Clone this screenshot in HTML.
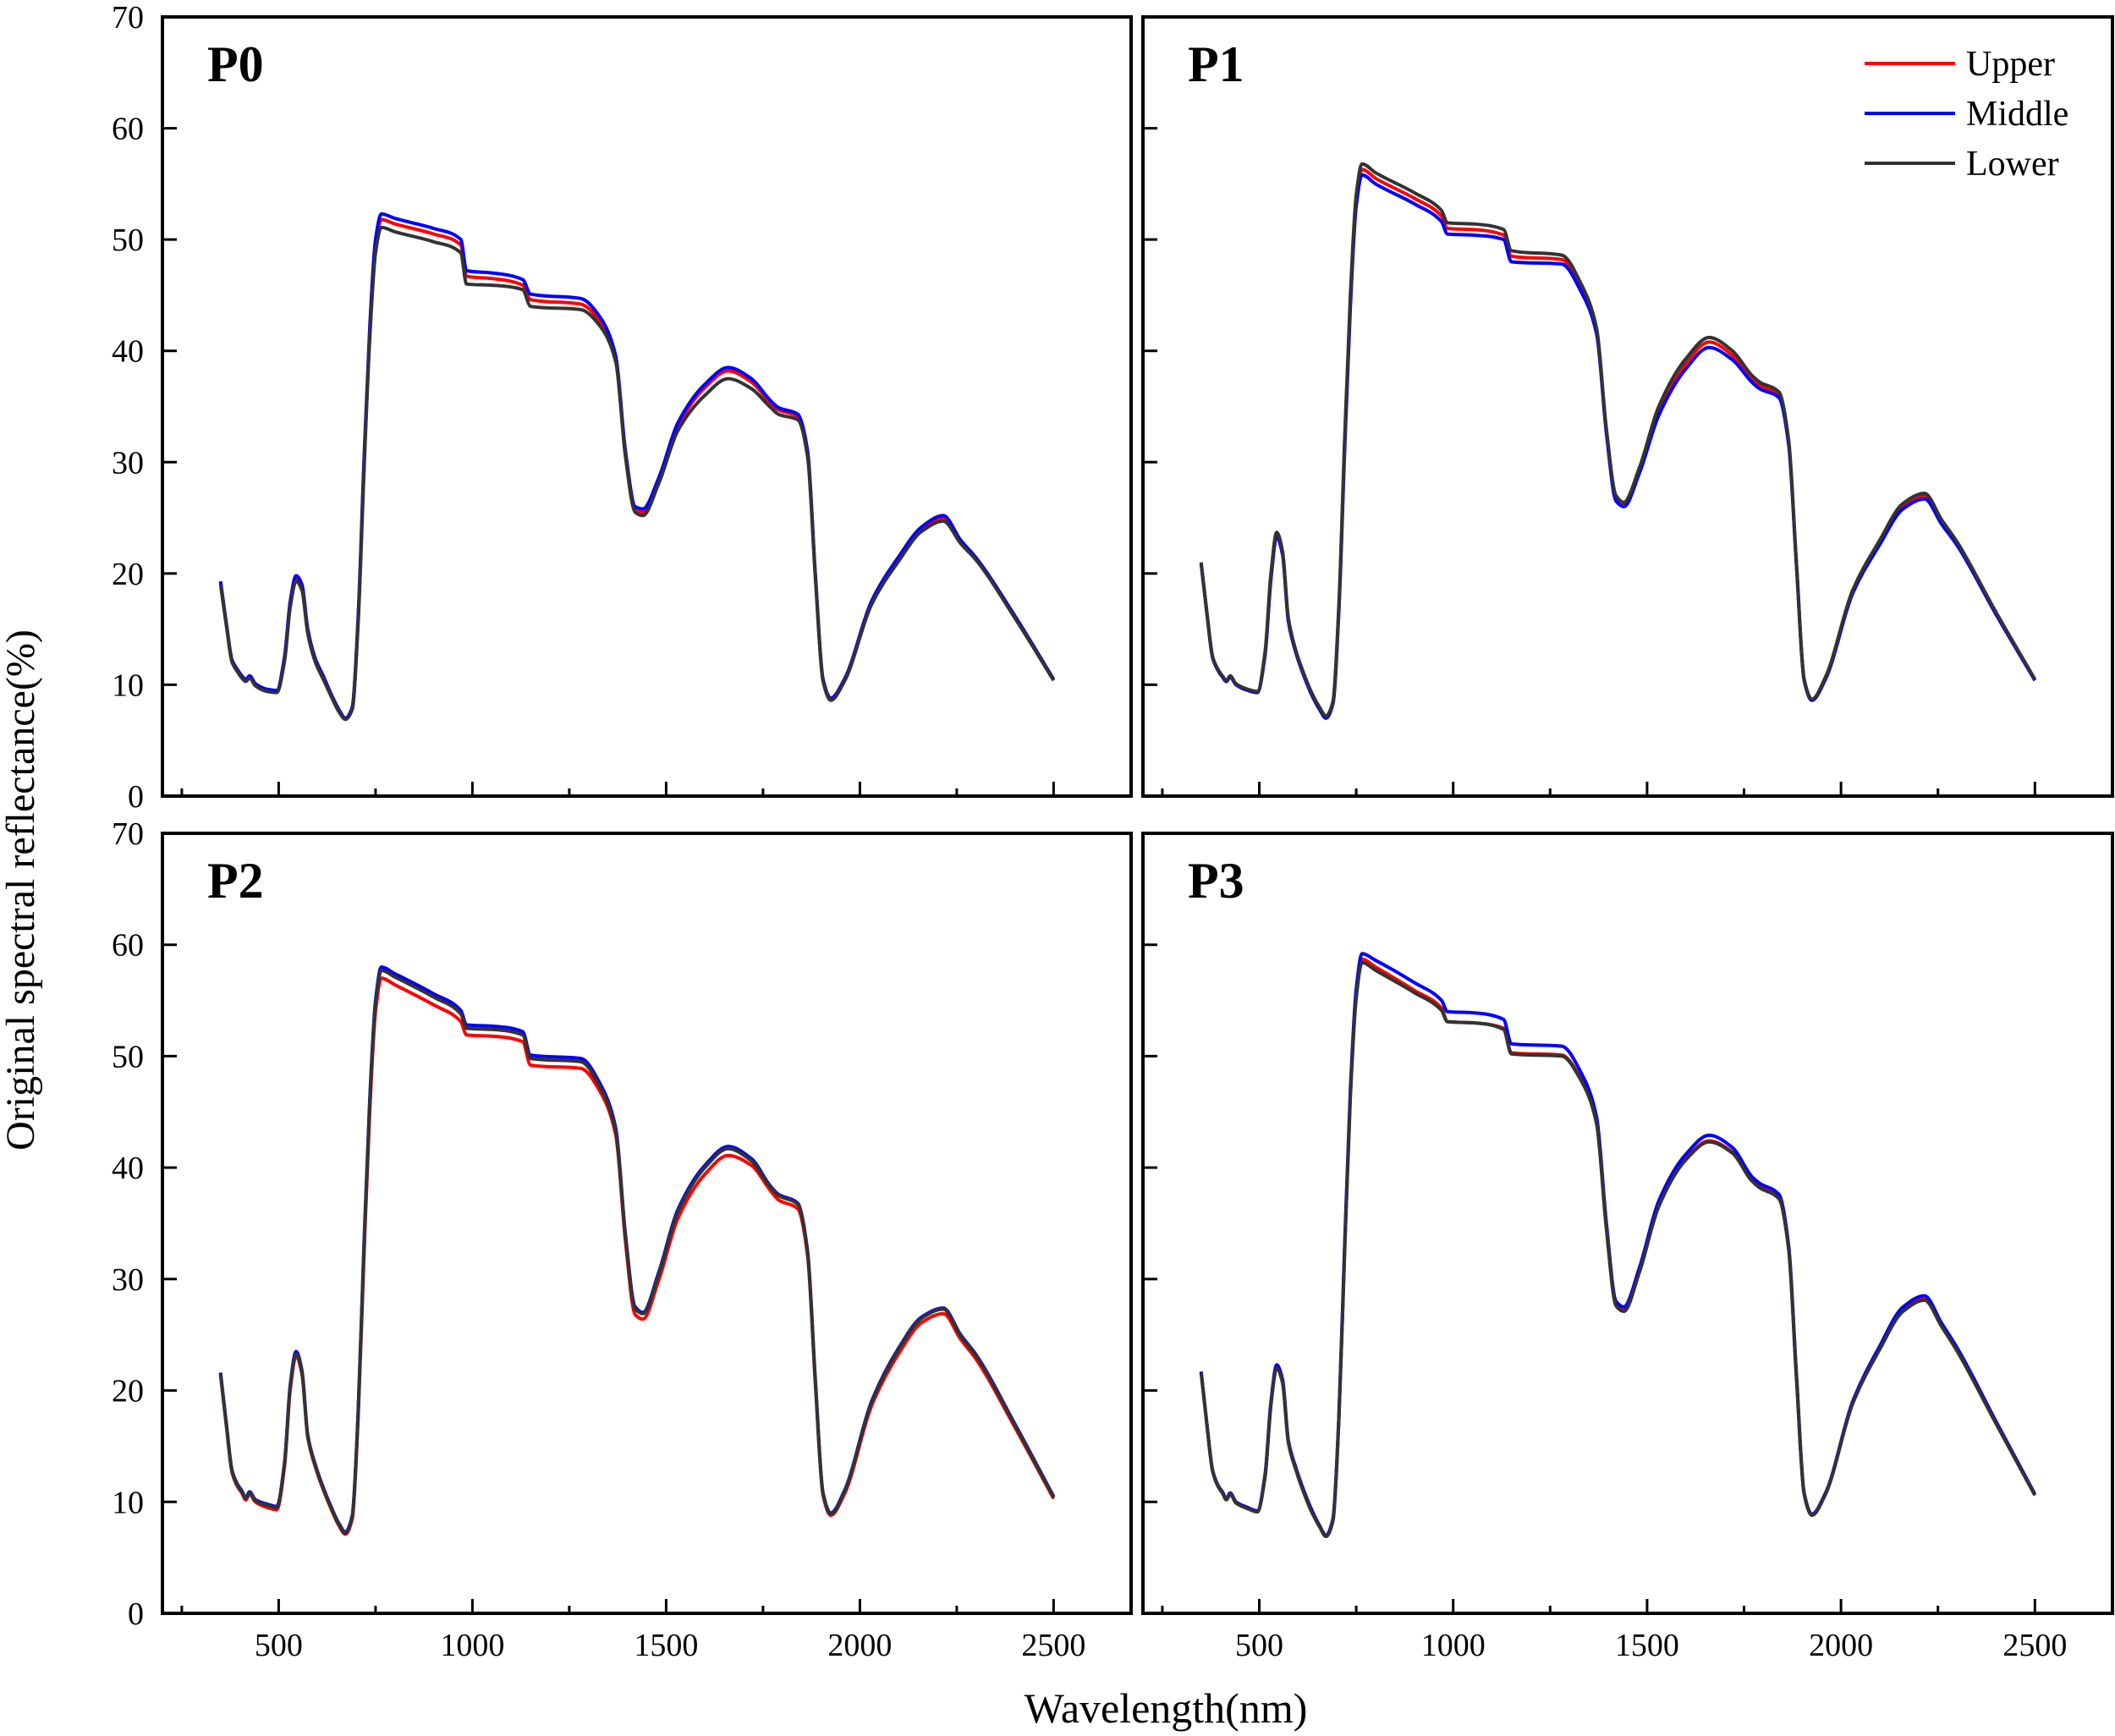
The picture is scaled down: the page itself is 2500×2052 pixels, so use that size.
<!DOCTYPE html>
<html><head><meta charset="utf-8"><style>
html,body{margin:0;padding:0;background:#fff}
svg{display:block}
text{font-family:"Liberation Serif",serif;fill:#000}
</style></head><body>
<svg id="chart" width="2500" height="2052" viewBox="0 0 2500 2052">
<text x="40" y="1052" font-size="48" text-anchor="middle" transform="rotate(-90 40 1052)">Original spectral reflectance(%)</text>
<text x="1378" y="2036" font-size="50" text-anchor="middle">Wavelength(nm)</text>
</svg>
<script>
const wavelengths=[350,365,380,395,405,415,425,440,470,495,515,530,545,560,575,595,615,635,655,672,690,705,720,735,750,765,800,900,970,985,1050,1130,1150,1280,1330,1370,1395,1420,1440,1480,1530,1600,1660,1720,1770,1790,1840,1865,1885,1905,1925,1960,2030,2100,2160,2215,2260,2300,2400,2500];
const p0Upper=[19.2,15.4,12.1,11.2,10.7,10.4,10.7,10.0,9.5,9.4,12.3,17.2,19.5,18.8,14.8,12.2,10.7,9.1,7.7,6.9,7.9,15.8,29.6,41.5,49.5,51.8,51.4,50.5,49.5,46.7,46.5,45.9,44.6,44.2,42.6,39.2,30.8,25.8,25.5,28.3,33.2,36.7,38.2,37.2,35.3,34.7,34.1,30.8,19.9,10.4,8.7,10.4,17.4,21.4,24.1,25.0,22.9,21.3,16.1,10.4];
const p0Middle=[19.3,15.5,12.2,11.3,10.8,10.5,10.8,10.1,9.6,9.5,12.5,17.5,19.8,19.0,15.0,12.3,10.8,9.2,7.8,7.0,8.0,16,30,42,50,52.3,51.9,51.0,50.0,47.2,47.0,46.4,45.1,44.7,43.0,39.5,31,26,25.8,28.5,33.5,37.0,38.5,37.5,35.5,34.9,34.3,31,20,10.5,8.8,10.5,17.5,21.5,24.2,25.2,23.0,21.4,16.2,10.5];
const p0Lower=[19.0,15.3,12.0,11.1,10.6,10.3,10.6,9.9,9.4,9.3,12.1,17.0,19.3,18.5,14.6,12.0,10.5,9.0,7.6,6.9,7.8,15.5,29,41,48.8,51.1,50.7,49.8,48.8,46.0,45.9,45.5,44.0,43.7,42.2,39.0,30.5,25.5,25.2,28.0,32.8,36.0,37.5,36.6,34.9,34.3,33.8,30.5,19.7,10.3,8.6,10.3,17.2,21.1,23.8,24.7,22.7,21.2,16.0,10.4];
const p1Upper=[20.9,16.4,12.4,11.2,10.7,10.3,10.7,10.0,9.5,9.3,12.8,19.7,23.4,21.8,15.8,12.9,10.9,9.2,7.9,7.1,8.4,16.8,31.6,44.5,53.5,56.3,55.5,53.7,52.1,51.0,50.9,50.4,48.5,48.2,45.6,41.7,32.8,26.8,26.2,29.2,34.6,38.9,40.8,39.6,37.5,36.9,36.0,31.8,20.9,10.4,8.6,10.6,18.3,22.8,26.0,27.0,24.6,22.6,16.4,10.4];
const p1Middle=[20.9,16.4,12.4,11.2,10.7,10.3,10.7,10.0,9.5,9.3,12.7,19.5,23.3,21.7,15.7,12.8,10.8,9.1,7.8,7.0,8.3,16.5,31,44,53,55.8,55.0,53.2,51.6,50.5,50.4,50.0,48.0,47.8,45.3,41.5,32.6,26.5,26.0,29.0,34.2,38.4,40.3,39.2,37.2,36.6,35.8,31.6,20.8,10.4,8.6,10.5,18.2,22.6,25.8,26.7,24.4,22.5,16.3,10.4];
const p1Lower=[21.0,16.5,12.5,11.3,10.8,10.4,10.8,10.1,9.6,9.4,13.0,20.0,23.7,22.0,16.0,13.0,11.0,9.3,8.0,7.2,8.5,17,32,45,54,56.8,56.0,54.2,52.6,51.5,51.4,50.9,49.0,48.6,46.0,42.0,33,27,26.4,29.5,35,39.3,41.2,40.0,37.8,37.2,36.3,32,21,10.5,8.7,10.7,18.5,23.0,26.3,27.2,24.8,22.8,16.5,10.5];
const p2Upper=[21.4,16.8,12.6,11.3,10.8,10.2,10.7,10.0,9.5,9.3,13.2,20.1,23.1,21.5,15.8,13.1,11.1,9.4,7.9,7.1,8.5,17.5,32,45,54,57.0,56.4,54.6,53.1,51.9,51.8,51.3,49.2,48.9,46.8,42.9,33.4,26.8,26.4,29.8,35.4,39.4,41.1,40.2,37.9,37.1,36.3,32.1,20.7,10.6,8.8,10.7,18.6,23.3,26.1,26.9,24.6,22.8,16.7,10.3];
const p2Middle=[21.6,17.0,12.8,11.5,11.0,10.4,10.9,10.2,9.8,9.6,13.5,20.5,23.5,21.8,16.0,13.3,11.3,9.6,8.1,7.3,8.8,18,33,46,55,58.0,57.4,55.6,54.1,52.8,52.7,52.2,50.1,49.8,47.5,43.5,34,27.5,27.0,30.5,36.2,40.2,41.9,40.8,38.3,37.6,36.8,32.5,21,10.8,9.0,11.0,19.0,23.8,26.6,27.4,25.0,23.2,17.0,10.5];
const p2Lower=[21.5,16.9,12.7,11.4,10.9,10.3,10.8,10.1,9.7,9.5,13.4,20.3,23.3,21.6,15.9,13.2,11.2,9.5,8.0,7.2,8.7,17.8,32.7,45.7,54.7,57.7,57.1,55.3,53.8,52.5,52.4,51.9,49.8,49.5,47.2,43.2,33.8,27.3,26.9,30.3,36.0,40.0,41.7,40.6,38.2,37.5,36.7,32.4,20.9,10.7,8.9,10.9,18.9,23.7,26.5,27.3,24.9,23.1,16.9,10.4];
const p3Upper=[21.6,16.9,12.7,11.3,10.8,10.2,10.7,9.9,9.4,9.1,12.3,18.8,22.1,20.8,15.4,12.9,10.9,9.2,7.8,6.9,8.4,17.3,32.6,46.6,55.5,58.7,58.0,55.9,54.3,53.1,53.0,52.5,50.3,50.1,47.9,44.0,34.6,27.7,27.2,30.7,36.6,40.8,42.4,41.4,38.9,38.3,37.3,32.8,21.3,10.7,8.8,10.7,18.9,23.8,27.2,28.2,25.8,23.6,17.1,10.6];
const p3Middle=[21.7,17.0,12.8,11.4,10.9,10.3,10.8,10.0,9.5,9.2,12.5,19.0,22.3,21.0,15.5,13.0,11.0,9.3,7.9,7.0,8.5,17.5,33,47,56,59.2,58.6,56.6,55.0,54.0,53.9,53.3,51.1,50.9,48.5,44.5,35,28,27.5,31,37,41.2,42.9,41.8,39.2,38.6,37.6,33,21.5,10.8,8.9,10.8,19.0,24.0,27.5,28.5,26.0,23.8,17.2,10.7];
const p3Lower=[21.6,16.9,12.7,11.3,10.8,10.2,10.7,9.9,9.4,9.1,12.3,18.7,22.0,20.7,15.3,12.8,10.8,9.1,7.8,6.9,8.3,17.2,32.4,46.4,55.2,58.4,57.7,55.7,54.1,53.1,53.0,52.4,50.2,50.0,47.8,43.9,34.5,27.6,27.1,30.6,36.5,40.7,42.3,41.3,38.8,38.2,37.2,32.7,21.2,10.7,8.8,10.7,18.8,23.7,27.1,28.1,25.7,23.5,17.0,10.6];
const panelNames=["P0","P1","P2","P3"];
const seriesNames=["Upper","Middle","Lower"];
const seriesColors=["#ff0000","#0000ff","#333333"];
const yTicks=[0,10,20,30,40,50,60,70];
const xMajorTicks=[500,1000,1500,2000,2500];
const xMinorTicks=[250,750,1250,1750,2250];
const panelData=[[p0Upper,p0Middle,p0Lower],[p1Upper,p1Middle,p1Lower],[p2Upper,p2Middle,p2Lower],[p3Upper,p3Middle,p3Lower]];

const NS="http://www.w3.org/2000/svg";
const svg=document.getElementById("chart");
const boxes=[[192,20,1337,941],[1351,20,2497,941],[192,985,1337,1907],[1351,985,2497,1907]];
function mk(tag,attrs,parent){const e=document.createElementNS(NS,tag);for(const k in attrs)e.setAttribute(k,attrs[k]);(parent||svg).appendChild(e);return e;}
function monotonePath(px,py){
  const n=px.length,d=[],m=[];
  for(let i=0;i<n-1;i++)d.push((py[i+1]-py[i])/(px[i+1]-px[i]));
  m[0]=d[0];m[n-1]=d[n-2];
  for(let i=1;i<n-1;i++){ if(d[i-1]*d[i]<=0)m[i]=0; else {const w1=2*(px[i+1]-px[i])+(px[i]-px[i-1]),w2=(px[i+1]-px[i])+2*(px[i]-px[i-1]);m[i]=(w1+w2)/(w1/d[i-1]+w2/d[i]);} }
  let s="M"+px[0].toFixed(1)+","+py[0].toFixed(1);
  for(let i=0;i<n-1;i++){const h=(px[i+1]-px[i])/3;
    s+="C"+(px[i]+h).toFixed(1)+","+(py[i]+m[i]*h).toFixed(1)+" "+(px[i+1]-h).toFixed(1)+","+(py[i+1]-m[i+1]*h).toFixed(1)+" "+px[i+1].toFixed(1)+","+py[i+1].toFixed(1);}
  return s;
}
panelData.forEach((series,pi)=>{
  const [x0,y0,x1,y1]=boxes[pi];
  const xs=w=>x0+(w-200)/2500*(x1-x0);
  const ys=v=>y1-v/70*(y1-y0);
  const g=mk("g",{});
  
  
  series.forEach((vals,si)=>{
    const d=monotonePath(wavelengths.map(xs),vals.map(ys));
    const pl=mk("path",{d:d,fill:"none",stroke:seriesColors[si],"stroke-width":4,"stroke-linejoin":"round"},g);
    
    
  });
  const fr=mk("rect",{x:x0,y:y0,width:x1-x0,height:y1-y0,fill:"none",stroke:"#000","stroke-width":4},g);
  
  
  yTicks.forEach(t=>{
    const y=ys(t);
    if(t>0&&t<70){const tk=mk("line",{x1:x0,x2:x0+17,y1:y,y2:y,stroke:"#000","stroke-width":3},g);
    
    }
    if(pi%2===0){const tl=mk("text",{x:x0-22,y:y+13,"font-size":38,"text-anchor":"end"},g);tl.textContent=t;
    
    }
  });
  xMajorTicks.forEach(t=>{
    const x=xs(t);
    const tk=mk("line",{x1:x,x2:x,y1:y1,y2:y1-17,stroke:"#000","stroke-width":3},g);
    
    
    if(pi>=2){const tl=mk("text",{x:x,y:y1+50,"font-size":38,"text-anchor":"middle"},g);tl.textContent=t;
    
    }
  });
  xMinorTicks.forEach(t=>{
    const x=xs(t);
    const tk=mk("line",{x1:x,x2:x,y1:y1,y2:y1-9,stroke:"#000","stroke-width":3},g);
    
    
  });
  const lb=mk("text",{x:x0+53,y:y0+76,"font-size":60,"font-weight":"bold"},g);
  lb.textContent=panelNames[pi];
  
  
});
const lg=mk("g",{});


seriesNames.forEach((n,i)=>{
  const y=75+i*59;
  const ln=mk("line",{x1:2204,x2:2311,y1:y,y2:y,stroke:seriesColors[i],"stroke-width":4},lg);
  
  
  const tx=mk("text",{x:2324,y:y+14,"font-size":42},lg);
  tx.textContent=n;
  
  
});
</script>
</body></html>
